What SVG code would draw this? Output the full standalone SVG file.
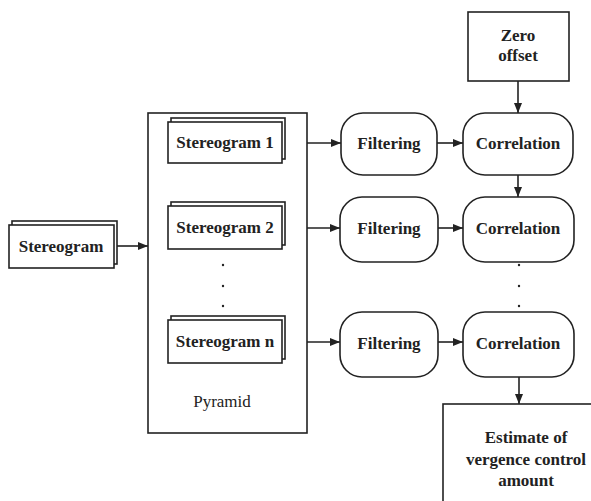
<svg xmlns="http://www.w3.org/2000/svg" width="591" height="501" viewBox="0 0 591 501">
<defs>
<style>
.b{fill:#fff;stroke:#222;stroke-width:1.6}
.t{font-family:"Liberation Serif",serif;font-weight:bold;font-size:17px;fill:#222;text-anchor:middle}
.r{font-family:"Liberation Serif",serif;font-size:17px;fill:#222;text-anchor:middle}
.c{stroke:#222;stroke-width:1.6;fill:none;marker-end:url(#a)}
.d{fill:#222}
</style>
<marker id="a" markerWidth="10" markerHeight="8" refX="10" refY="4" orient="auto" markerUnits="userSpaceOnUse">
<path d="M0,0 L10,4 L0,8 Z" fill="#222"/>
</marker>
</defs>
<rect width="591" height="501" fill="#fff"/>
<g id="stereogram">
<rect class="b" x="12" y="221" width="105" height="43"/>
<rect class="b" x="9" y="225" width="105" height="43"/>
<text class="t" x="61" y="252">Stereogram</text>
</g>
<g id="pyramid">
<rect class="b" x="148" y="113" width="159" height="320"/>
<text class="r" x="222" y="407">Pyramid</text>
<circle class="d" cx="223" cy="265" r="1.2"/>
<circle class="d" cx="223" cy="286" r="1.2"/>
<circle class="d" cx="223" cy="306" r="1.2"/>
</g>
<g id="stereogram1">
<rect class="b" x="171" y="118" width="114" height="41"/>
<rect class="b" x="168" y="122" width="114" height="41"/>
<text class="t" x="225" y="148">Stereogram 1</text>
</g>
<g id="stereogram2">
<rect class="b" x="171" y="202" width="114" height="43"/>
<rect class="b" x="168" y="206" width="114" height="43"/>
<text class="t" x="225" y="233">Stereogram 2</text>
</g>
<g id="stereogramn">
<rect class="b" x="171" y="316" width="114" height="43"/>
<rect class="b" x="168" y="320" width="114" height="43"/>
<text class="t" x="225" y="347">Stereogram n</text>
</g>
<g id="filtering1">
<rect class="b" x="341" y="113" width="96" height="62" rx="22"/>
<text class="t" x="389" y="149">Filtering</text>
</g>
<g id="filtering2">
<rect class="b" x="340" y="197" width="98" height="65" rx="22"/>
<text class="t" x="389" y="234">Filtering</text>
</g>
<g id="filtering3">
<rect class="b" x="340" y="312" width="98" height="65" rx="22"/>
<text class="t" x="389" y="349">Filtering</text>
</g>
<g id="correlation1">
<rect class="b" x="463" y="113" width="110" height="62" rx="22"/>
<text class="t" x="518" y="149">Correlation</text>
</g>
<g id="correlation2">
<rect class="b" x="463" y="197" width="111" height="65" rx="22"/>
<text class="t" x="518" y="234">Correlation</text>
</g>
<g id="correlation3">
<rect class="b" x="463" y="312" width="111" height="65" rx="22"/>
<text class="t" x="518" y="349">Correlation</text>
</g>
<g id="dots-right">
<circle class="d" cx="519" cy="265" r="1.2"/>
<circle class="d" cx="519" cy="286" r="1.2"/>
<circle class="d" cx="519" cy="306" r="1.2"/>
</g>
<g id="zero-offset">
<rect class="b" x="468" y="12" width="101" height="69"/>
<text class="t" x="518" y="41">Zero</text>
<text class="t" x="518" y="61">offset</text>
</g>
<g id="estimate">
<rect class="b" x="443" y="404" width="160" height="110"/>
<text class="t" x="526" y="443">Estimate of</text>
<text class="t" x="526" y="465">vergence control</text>
<text class="t" x="526" y="486">amount</text>
</g>
<g id="connectors">
<path class="c" d="M117,246 H148"/>
<path class="c" d="M307,143 H341"/>
<path class="c" d="M307,228 H340"/>
<path class="c" d="M307,342 H340"/>
<path class="c" d="M437,143 H463"/>
<path class="c" d="M438,228 H463"/>
<path class="c" d="M438,342 H463"/>
<path class="c" d="M518,81 V113"/>
<path class="c" d="M518,175 V197"/>
<path class="c" d="M519,377 V404"/>
</g>
</svg>
